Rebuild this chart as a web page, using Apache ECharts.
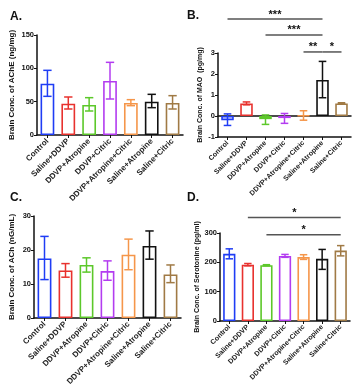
<!DOCTYPE html>
<html><head><meta charset="utf-8">
<script src="https://cdn.jsdelivr.net/npm/echarts@6/dist/echarts.min.js"></script>
<style>html,body{margin:0;padding:0;background:#fff}#c{width:358px;height:389px}</style>
</head><body><div id="c"></div>
<script>
const categories = ['Control','Saline+DDVP','DDVP+Atropine','DDVP+Citric','DDVP+Atropine+Citric','Saline+Atropine','Saline+Citric'];
const colors = ['#1f3df5','#e8322e','#5cc82a','#b33cf0','#f5964a','#111111','#a07a45'];

// Panel A: AChE (ng/mg)
const acheMean = [77, 47, 45, 81, 48, 50, 48];
const acheLow  = [58, 39, 36, 54, 44, 41, 39];
const acheHigh = [97, 57, 56, 109, 53, 61, 59];

// Panel B: MAO (pg/mg)
const maoMean = [-0.2, 0.6, -0.15, -0.1, 0.02, 1.72, 0.6];
const maoLow  = [-0.45, 0.53, -0.4, -0.35, -0.2, 0.87, 0.58];
const maoHigh = [0.1, 0.67, 0.05, 0.12, 0.25, 2.6, 0.63];
const maoSig = [[0, 5, 4.62, '***'], [2, 5, 3.86, '***'], [4, 4.88, 3.05, '**'], [5.12, 6, 3.05, '*']];

// Panel C: ACh (nG/mL)
const achMean = [17.5, 14, 15.6, 13.8, 18.6, 21.2, 12.8];
const achLow  = [11.3, 12, 13.5, 11.1, 14.2, 17.3, 10.4];
const achHigh = [24, 16, 17.7, 16.8, 23.2, 25.6, 15.6];

// Panel D: Serotonine (pg/ml)
const serMean = [229, 192, 190, 222, 218, 212, 240];
const serLow  = [212, 188, 188, 217, 210, 176, 222];
const serHigh = [246, 196, 192, 227, 226, 244, 257];
const serSig = [[1, 6, 353, '*'], [2, 6, 294, '*']];

const FONT = 'Liberation Sans, Arial, sans-serif';

function barSeries(vals, xi, yi) {
  return {
    type: 'bar', xAxisIndex: xi, yAxisIndex: yi, barWidth: '66%',
    data: vals.map((v, i) => ({ value: v, itemStyle: { color: 'rgba(255,255,255,0)', borderColor: colors[i], borderWidth: 1.6 } })),
    z: 2
  };
}
function errSeries(low, high, xi, yi) {
  return {
    type: 'custom', xAxisIndex: xi, yAxisIndex: yi, z: 3,
    data: low.map((l, i) => [i, l, high[i]]),
    renderItem: function (params, api) {
      const i = api.value(0);
      const lo = api.coord([i, api.value(1)]);
      const hi = api.coord([i, api.value(2)]);
      const w = api.size([1, 0])[0] * 0.2;
      const st = { stroke: colors[i], lineWidth: 1.5 };
      return { type: 'group', children: [
        { type: 'line', shape: { x1: lo[0], y1: lo[1], x2: hi[0], y2: hi[1] }, style: st },
        { type: 'line', shape: { x1: lo[0] - w, y1: lo[1], x2: lo[0] + w, y2: lo[1] }, style: st },
        { type: 'line', shape: { x1: hi[0] - w, y1: hi[1], x2: hi[0] + w, y2: hi[1] }, style: st }
      ]};
    }
  };
}
function sigSeries(sig, xi, yi) {
  return {
    type: 'custom', xAxisIndex: xi, yAxisIndex: yi, z: 4, clip: false,
    data: sig.map(s => [s[0], s[1], s[2]]),
    renderItem: function (params, api) {
      const a = api.coord([api.value(0), api.value(2)]);
      const b = api.coord([api.value(1), api.value(2)]);
      const lab = sig[params.dataIndex][3];
      return { type: 'group', children: [
        { type: 'line', shape: { x1: a[0], y1: a[1], x2: b[0], y2: b[1] }, style: { stroke: '#555', lineWidth: 1.5 } },
        { type: 'text', style: { text: lab, x: (a[0] + b[0]) / 2, y: a[1] + 1, align: 'center', verticalAlign: 'bottom', font: 'bold 11px ' + FONT, fill: '#111' } }
      ]};
    }
  };
}

function xAxis(gi, showLabel, showLine, showTick, onZero, fs) {
  return {
    type: 'category', gridIndex: gi, data: categories,
    axisLine: { show: showLine, onZero: onZero, lineStyle: { color: '#111', width: 1.5 } },
    axisTick: { show: showTick, length: 3, alignWithLabel: true, lineStyle: { color: '#111', width: 1 } },
    axisLabel: { show: showLabel, interval: 0, rotate: 45, fontSize: fs, fontWeight: 'bold', color: '#222', fontFamily: FONT, margin: 5 },
    splitLine: { show: false }
  };
}
function yAxis(gi, min, max, interval, name, gap, nameSize) {
  return {
    type: 'value', gridIndex: gi, min: min, max: max, interval: interval,
    name: name, nameLocation: 'middle', nameGap: gap,
    nameTextStyle: { fontSize: nameSize, fontWeight: 'bold', color: '#111', fontFamily: FONT },
    axisLine: { show: true, lineStyle: { color: '#111', width: 1.5 } },
    axisTick: { show: true, length: 3, lineStyle: { color: '#111', width: 1 } },
    axisLabel: { fontSize: 7.5, fontWeight: 'bold', color: '#111', fontFamily: FONT, margin: 3 },
    splitLine: { show: false }
  };
}

const chart = echarts.init(document.getElementById('c'), null, { renderer: 'canvas' });
chart.setOption({
  animation: false,
  backgroundColor: '#fff',
  title: [
    { text: 'A.', left: 5, top: 6, textStyle: { fontSize: 12, fontWeight: 'bold', color: '#111', fontFamily: FONT } },
    { text: 'B.', left: 182, top: 5, textStyle: { fontSize: 12, fontWeight: 'bold', color: '#111', fontFamily: FONT } },
    { text: 'C.', left: 5, top: 187, textStyle: { fontSize: 12, fontWeight: 'bold', color: '#111', fontFamily: FONT } },
    { text: 'D.', left: 182, top: 187, textStyle: { fontSize: 12, fontWeight: 'bold', color: '#111', fontFamily: FONT } }
  ],
  grid: [
    { left: 37, top: 35, width: 146, height: 100 },
    { left: 218, top: 53, width: 133, height: 84 },
    { left: 34, top: 216, width: 147, height: 102 },
    { left: 220, top: 233, width: 130, height: 88 }
  ],
  xAxis: [
    xAxis(0, true, true, true, false, 8),
    xAxis(1, true, true, true, false, 7),
    xAxis(1, false, true, false, true, 7),
    xAxis(2, true, true, true, false, 8),
    xAxis(3, true, true, true, false, 7)
  ],
  yAxis: [
    yAxis(0, 0, 150, 50, 'Brain Conc. of AChE (ng/mg)', 21, 8),
    yAxis(1, -1, 3, 1, 'Brain Conc. of MAO  (pg/mg)', 14, 7),
    yAxis(2, 0, 30, 10, 'Brain Conc. of ACh (nG/mL)', 18, 8),
    yAxis(3, 0, 300, 100, 'Brain Conc. of Serotonine (pg/ml)', 19, 7)
  ],
  series: [
    barSeries(acheMean, 0, 0), errSeries(acheLow, acheHigh, 0, 0),
    barSeries(maoMean, 2, 1), errSeries(maoLow, maoHigh, 2, 1), sigSeries(maoSig, 2, 1),
    barSeries(achMean, 3, 2), errSeries(achLow, achHigh, 3, 2),
    barSeries(serMean, 4, 3), errSeries(serLow, serHigh, 4, 3), sigSeries(serSig, 4, 3)
  ]
});
</script></body></html>
